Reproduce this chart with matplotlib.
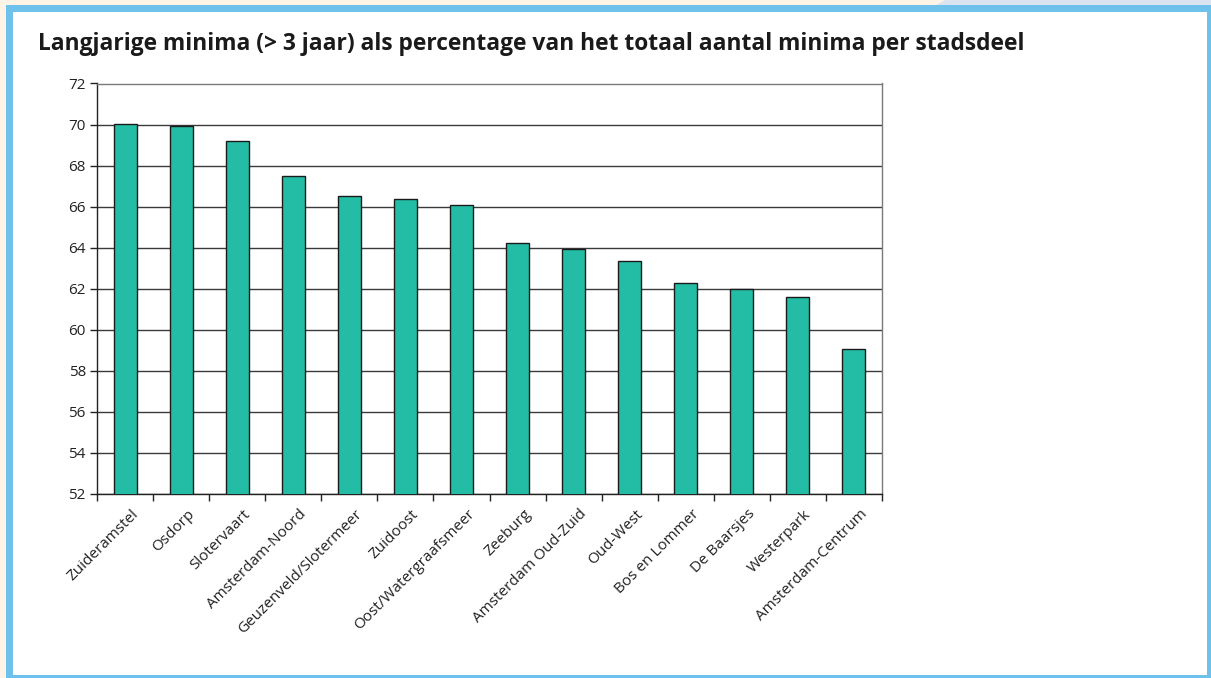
import matplotlib
matplotlib.use("Agg")
import matplotlib.pyplot as plt
from matplotlib.patches import Rectangle, Polygon
import matplotlib.transforms as mtransforms

categories = ["Zuideramstel", "Osdorp", "Slotervaart", "Amsterdam-Noord",
              "Geuzenveld/Slotermeer", "Zuidoost", "Oost/Watergraafsmeer",
              "Zeeburg", "Amsterdam Oud-Zuid", "Oud-West", "Bos en Lommer",
              "De Baarsjes", "Westerpark", "Amsterdam-Centrum"]
values = [70.05, 69.94, 69.21, 67.49, 66.51, 66.38, 66.07,
          64.23, 63.96, 63.33, 62.27, 62.0, 61.6, 59.05]
yticks = [52, 54, 56, 58, 60, 62, 64, 66, 68, 70, 72]
title = "Langjarige minima (> 3 jaar) als percentage van het totaal aantal minima per stadsdeel"

W, H = 1211, 678
fig = plt.figure(figsize=(W / 100, H / 100), dpi=100)
fig.patch.set_facecolor("white")

def px(x0, y0, x1, y1, color, z=0):
    fig.add_artist(Rectangle((x0 / W, 1 - y1 / H), (x1 - x0) / W, (y1 - y0) / H,
                             transform=fig.transFigure, facecolor=color,
                             edgecolor="none", zorder=z))

# outer decorations
px(0, 0, W, H, "#FDF3E7")
fig.add_artist(Polygon([(945 / W, 1), (1, 1), (1, 1 - 6 / H), (935 / W, 1 - 6 / H)],
                       closed=True, transform=fig.transFigure,
                       facecolor="#DCE3F0", edgecolor="none", zorder=0))
px(6, 5, W, H, "#6EC1EA")
px(13, 12, 1207, 675, "#FFFFFF")

ax = fig.add_axes([97 / W, 1 - 494 / H, (882 - 97) / W, (494 - 83.5) / H])
x = list(range(len(categories)))
ax.bar(x, values, width=0.41, color="#23BDA5", edgecolor="#1a1a1a",
       linewidth=1.0, zorder=3, bottom=0)
ax.set_ylim(52, 72)
ax.set_xlim(-0.5, len(categories) - 0.5)
ax.set_yticks(yticks)
ax.set_yticklabels([str(t) for t in yticks], fontsize=11, family="Open Sans")
ax.yaxis.grid(True, color="#3a3a3a", linewidth=1.0, zorder=1)
ax.set_axisbelow(True)
ax.set_xticks([i - 0.5 for i in range(len(categories) + 1)], minor=False)
ax.set_xticklabels([])
ax.tick_params(axis="x", length=5, width=1, color="#222222", direction="out")
ax.tick_params(axis="y", length=5, width=1, color="#222222", direction="out",
               pad=3, labelcolor="#222222")
for s in ["left", "bottom"]:
    ax.spines[s].set_color("#222222")
    ax.spines[s].set_linewidth(1.0)
for s in ["top", "right"]:
    ax.spines[s].set_color("#7a7a7a")
    ax.spines[s].set_linewidth(1.0)

offset = mtransforms.ScaledTranslation(11 / 100, -18 / 100, fig.dpi_scale_trans)
for i, c in enumerate(categories):
    ax.text(i, 52, c, rotation=45, ha="right", va="center",
            rotation_mode="anchor", fontsize=11, family="Open Sans",
            color="#222222",
            transform=ax.transData + offset)

fig.text(38 / W, 1 - 50 / H, title, fontsize=16.4, fontweight="bold",
         family="Open Sans", color="#1a1a1a", ha="left", va="baseline")

fig.savefig("out.png", dpi=100, facecolor=fig.get_facecolor())
